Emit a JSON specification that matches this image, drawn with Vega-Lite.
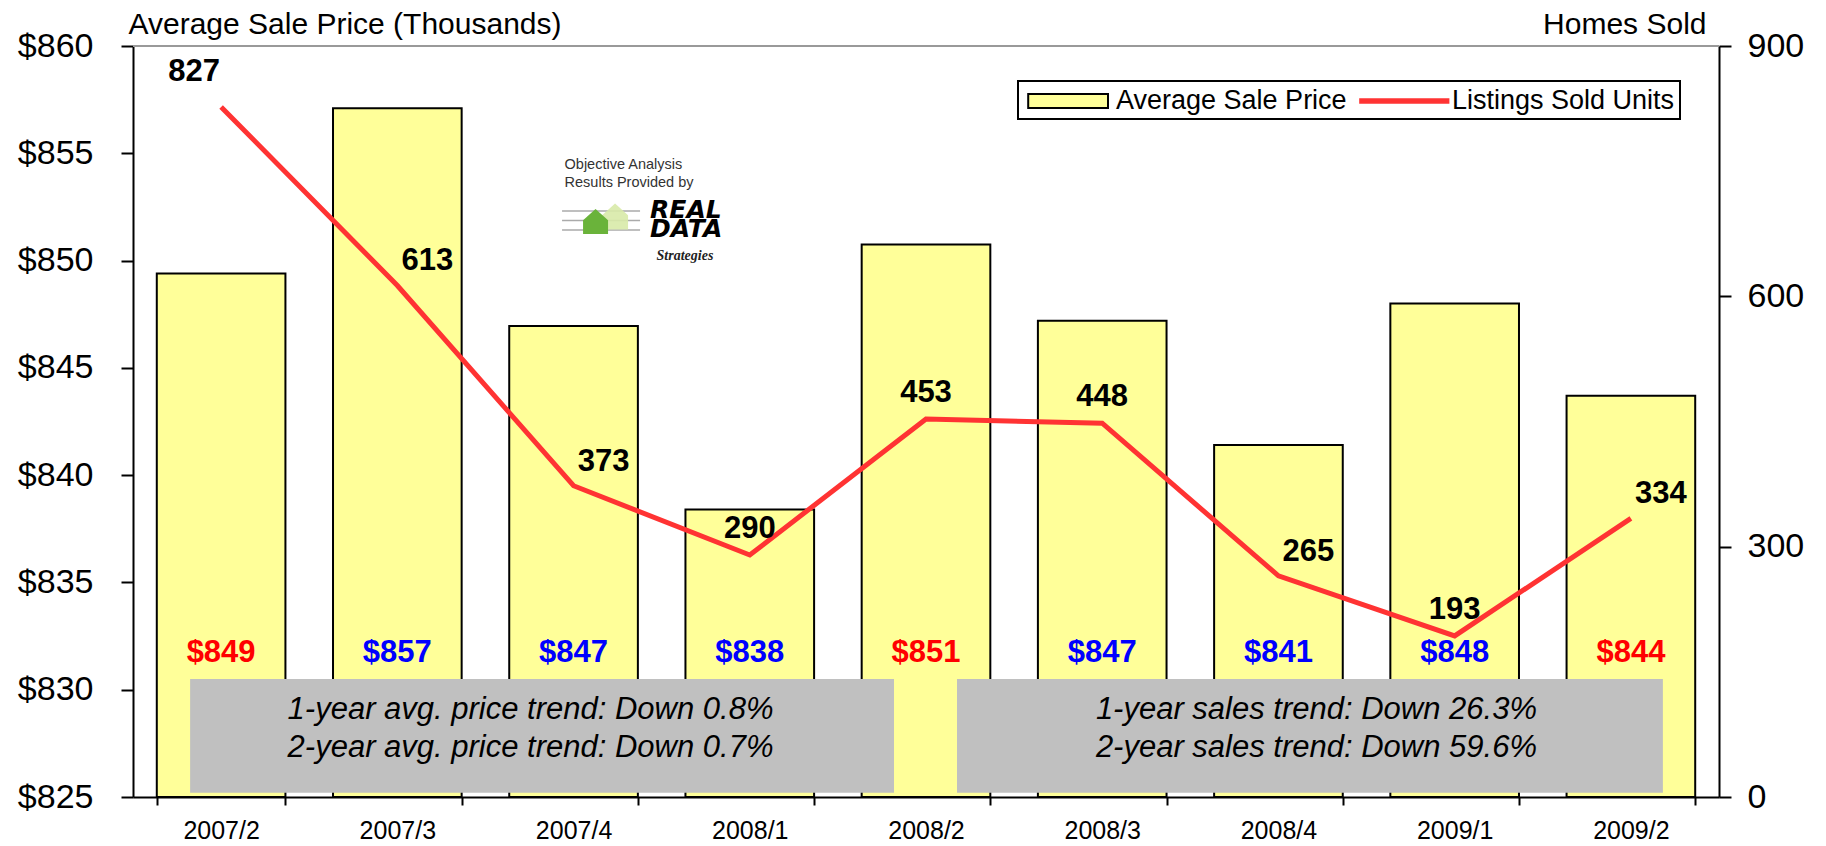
{
  "$schema": "https://vega.github.io/schema/vega-lite/v6.json",
  "autosize": {"type": "none"},
  "padding": {"left": 133, "top": 46, "right": 107, "bottom": 49},
  "width": 1586,
  "height": 751,
  "background": "white",
  "config": {
    "view": {"stroke": null},
    "font": "Liberation Sans",
    "axis": {"grid": false, "labelFont": "Liberation Sans", "titleFont": "Liberation Sans", "labelColor": "black", "titleColor": "black", "domainColor": "black", "tickColor": "black"}
  },
  "datasets": {
    "q": [
      {"quarter": "2007/2", "price": 849.4, "units": 827},
      {"quarter": "2007/3", "price": 857.1, "units": 613},
      {"quarter": "2007/4", "price": 846.95, "units": 373},
      {"quarter": "2008/1", "price": 838.4, "units": 290},
      {"quarter": "2008/2", "price": 850.75, "units": 453},
      {"quarter": "2008/3", "price": 847.2, "units": 448},
      {"quarter": "2008/4", "price": 841.4, "units": 265},
      {"quarter": "2009/1", "price": 848.0, "units": 193},
      {"quarter": "2009/2", "price": 843.7, "units": 334}
    ],
    "notes": [
      {"from": "2007/2", "to": "2008/2", "mid": "2007/4", "text": "1-year avg. price trend: Down 0.8%\n2-year avg. price trend: Down 0.7%"},
      {"from": "2008/2", "to": "2009/2", "mid": "2008/4", "text": "1-year sales trend: Down 26.3%\n2-year sales trend: Down 59.6%"}
    ]
  },
  "data": {"name": "q"},
  "layer": [
    {
      "layer": [
        {
          "mark": {"type": "bar", "filled": false, "fill": "#ffff99", "strokeWidth": 2},
          "encoding": {
            "x": {
              "field": "quarter", "type": "nominal", "sort": null,
              "scale": {"type": "band", "domain": ["2007/2","2007/3","2007/4","2008/1","2008/2","2008/3","2008/4","2009/1","2009/2"], "paddingInner": 0.27, "paddingOuter": 0.135},
              "axis": {"title": null, "labelAngle": 0, "labelFontSize": 25, "labelPadding": 13, "tickBand": "extent", "tickSize": 8, "tickWidth": 2, "domainWidth": 2}
            },
            "y": {
              "field": "price", "type": "quantitative",
              "scale": {"domain": [825, 860], "nice": false, "zero": false},
              "axis": {"orient": "left", "values": [825,830,835,840,845,850,855,860], "format": "$.0f", "labelFontSize": 34, "labelPadding": 28, "tickSize": 12, "tickWidth": 2, "domainWidth": 2,
                       "title": "Average Sale Price (Thousands)", "titleAngle": 0, "titleX": -5, "titleY": -13, "titleAlign": "left", "titleBaseline": "alphabetic", "titleFontSize": 30, "titleFontWeight": "normal"}
            },
            "y2": {"datum": 825},
            "color": {
              "datum": "Average Sale Price", "type": "nominal",
              "scale": {"domain": ["Average Sale Price", "Listings Sold Units"], "range": ["#000000", "#ff3333"]},
              "legend": {
                "title": null, "orient": "none", "legendX": 885, "legendY": 35, "direction": "horizontal",
                "symbolSize": 784, "labelFontSize": 27, "labelColor": "black", "labelFont": "Liberation Sans", "labelOffset": 63, "labelLimit": 400, "columnPadding": 8,
                "padding": 5, "strokeColor": "black", "fillColor": "white",
                "encode": {
                  "legend": {"update": {"strokeWidth": {"value": 2}}},
                  "labels": {"update": {"dx": {"signal": "datum.value === 'Listings Sold Units' ? 4 : 0"}}},
                  "symbols": {"update": {
                    "shape": {"signal": "datum.value === 'Average Sale Price' ? 'M-0.7,-0.5H5V0.5H-0.7Z' : 'M-0.7,-0.13H5.6V0.13H-0.7Z'"},
                    "fill": {"signal": "datum.value === 'Average Sale Price' ? '#ffff99' : '#ff3333'"},
                    "strokeWidth": {"value": 2},
                    "strokeOpacity": {"value": 1},
                    "fillOpacity": {"value": 1},
                    "size": {"value": 784},
                    "opacity": {"value": 1}
                  }}
                }
              }
            }
          }
        },
        {
          "data": {"name": "notes"},
          "transform": [{"filter": "datum.from === '2007/2'"}],
          "mark": {"type": "rect", "fill": "#c0c0c0", "xOffset": -31, "x2Offset": -32},
          "encoding": {
            "x": {"field": "from", "type": "nominal", "bandPosition": 0.5},
            "x2": {"field": "to", "bandPosition": 0.5},
            "y": {"datum": 830.5},
            "y2": {"datum": 825.2}
          }
        },
        {
          "data": {"name": "notes"},
          "transform": [{"filter": "datum.from === '2008/2'"}],
          "mark": {"type": "rect", "fill": "#c0c0c0", "xOffset": 31, "x2Offset": 32},
          "encoding": {
            "x": {"field": "from", "type": "nominal", "bandPosition": 0.5},
            "x2": {"field": "to", "bandPosition": 0.5},
            "y": {"datum": 830.5},
            "y2": {"datum": 825.2}
          }
        },
        {
          "data": {"name": "notes"},
          "transform": [{"filter": "datum.from === '2007/2'"}],
          "mark": {"type": "text", "fontStyle": "italic", "fontSize": 31, "lineBreak": "\n", "lineHeight": 38, "dx": -43, "baseline": "middle", "color": "black"},
          "encoding": {
            "x": {"field": "mid", "type": "nominal"},
            "y": {"datum": 829.05},
            "text": {"field": "text"}
          }
        },
        {
          "data": {"name": "notes"},
          "transform": [{"filter": "datum.from === '2008/2'"}],
          "mark": {"type": "text", "fontStyle": "italic", "fontSize": 31, "lineBreak": "\n", "lineHeight": 38, "dx": 38, "baseline": "middle", "color": "black"},
          "encoding": {
            "x": {"field": "mid", "type": "nominal"},
            "y": {"datum": 829.05},
            "text": {"field": "text"}
          }
        },
        {
          "mark": {"type": "text", "fontWeight": "bold", "fontSize": 31, "baseline": "middle"},
          "encoding": {
            "x": {"field": "quarter", "type": "nominal"},
            "y": {"datum": 831.7},
            "text": {"field": "price", "type": "quantitative", "format": "$.0f"},
            "color": {"condition": {"test": "indexof(datum.quarter, '/2') > 0", "value": "#ff0000"}, "value": "#0000ff"}
          }
        },
        {
          "data": {"values": [{}]},
          "mark": {"type": "rule", "color": "#999999", "strokeWidth": 2},
          "encoding": {"y": {"datum": 860}}
        },
        {
          "data": {"values": [{}]},
          "mark": {"type": "point", "shape": "M-1,-0.244H1M-1,0H1M-1,0.244H1", "filled": false, "stroke": "#aaaaaa", "strokeWidth": 1.5, "size": 6084, "opacity": 1, "xOffset": 27.5},
          "encoding": {"x": {"datum": "2007/4"}, "y": {"datum": 851.87}}
        },
        {
          "data": {"values": [{}]},
          "mark": {"type": "point", "shape": "M-1,1V-0.1L0,-1L1,-0.1V1Z", "filled": true, "fill": "#d8eaa8", "strokeWidth": 0, "size": 676, "opacity": 0.9, "xOffset": 41.5, "yOffset": -4},
          "encoding": {"x": {"datum": "2007/4"}, "y": {"datum": 851.87}}
        },
        {
          "data": {"values": [{}]},
          "mark": {"type": "point", "shape": "M-1,1V-0.1L0,-1L1,-0.1V1Z", "filled": true, "fill": "#6ab33a", "strokeWidth": 0, "size": 625, "opacity": 1, "xOffset": 22, "yOffset": 1},
          "encoding": {"x": {"datum": "2007/4"}, "y": {"datum": 851.87}}
        },
        {
          "data": {"values": [{}]},
          "mark": {"type": "text", "text": ["Objective Analysis", "Results Provided by"], "align": "left", "baseline": "middle", "fontSize": 14.5, "lineHeight": 18, "dx": -9, "color": "#333333"},
          "encoding": {"x": {"datum": "2007/4"}, "y": {"datum": 854.45}}
        },
        {
          "data": {"values": [{}]},
          "mark": {"type": "text", "text": ["REAL", "DATA"], "align": "left", "baseline": "middle", "font": "DejaVu Sans", "fontWeight": "bold", "fontStyle": "italic", "fontSize": 25, "lineHeight": 19, "dx": 76.5, "color": "black"},
          "encoding": {"x": {"datum": "2007/4"}, "y": {"datum": 852.36}}
        },
        {
          "data": {"values": [{}]},
          "mark": {"type": "text", "text": "Strategies", "align": "left", "baseline": "middle", "font": "Liberation Serif", "fontWeight": "bold", "fontStyle": "italic", "fontSize": 14, "dx": 83, "color": "#222222"},
          "encoding": {"x": {"datum": "2007/4"}, "y": {"datum": 850.2}}
        }
      ]
    },
    {
      "layer": [
        {
          "mark": {"type": "line", "strokeWidth": 5},
          "encoding": {
            "x": {"field": "quarter", "type": "nominal"},
            "y": {
              "field": "units", "type": "quantitative",
              "scale": {"domain": [0, 900], "nice": false},
              "axis": {"orient": "right", "values": [0, 300, 600, 900], "labelFontSize": 34, "labelPadding": 16, "tickSize": 12, "tickWidth": 2, "domainWidth": 2,
                       "title": "Homes Sold", "titleAngle": 0, "titleX": -13, "titleY": -13, "titleAlign": "right", "titleBaseline": "alphabetic", "titleFontSize": 30, "titleFontWeight": "normal"}
            },
            "color": {
              "datum": "Listings Sold Units", "type": "nominal",
              "legend": {
                "title": null, "orient": "none", "legendX": 885, "legendY": 35, "direction": "horizontal",
                "symbolSize": 784, "labelFontSize": 27, "labelColor": "black", "labelFont": "Liberation Sans", "labelOffset": 63, "labelLimit": 400, "columnPadding": 8,
                "padding": 5, "strokeColor": "black", "fillColor": "white",
                "encode": {
                  "legend": {"update": {"strokeWidth": {"value": 2}}},
                  "labels": {"update": {"dx": {"signal": "datum.value === 'Listings Sold Units' ? 4 : 0"}}},
                  "symbols": {"update": {
                    "shape": {"signal": "datum.value === 'Average Sale Price' ? 'M-0.7,-0.5H5V0.5H-0.7Z' : 'M-0.7,-0.13H5.6V0.13H-0.7Z'"},
                    "fill": {"signal": "datum.value === 'Average Sale Price' ? '#ffff99' : '#ff3333'"},
                    "strokeWidth": {"value": 2},
                    "strokeOpacity": {"value": 1},
                    "fillOpacity": {"value": 1},
                    "size": {"value": 784},
                    "opacity": {"value": 1}
                  }}
                }
              }
            }
          }
        },
        {
          "transform": [{"filter": {"field": "quarter", "oneOf": ["2007/3", "2007/4", "2008/4", "2009/2"]}}],
          "mark": {"type": "text", "fontWeight": "bold", "fontSize": 31, "baseline": "middle", "dx": 30, "dy": -24, "color": "black"},
          "encoding": {
            "x": {"field": "quarter", "type": "nominal"},
            "y": {"field": "units", "type": "quantitative"},
            "text": {"field": "units", "type": "quantitative"}
          }
        },
        {
          "transform": [{"filter": {"field": "quarter", "oneOf": ["2008/1", "2008/2", "2008/3", "2009/1"]}}],
          "mark": {"type": "text", "fontWeight": "bold", "fontSize": 31, "baseline": "middle", "dx": 0, "dy": -26, "color": "black"},
          "encoding": {
            "x": {"field": "quarter", "type": "nominal"},
            "y": {"field": "units", "type": "quantitative"},
            "text": {"field": "units", "type": "quantitative"}
          }
        },
        {
          "transform": [{"filter": {"field": "quarter", "oneOf": ["2007/2"]}}],
          "mark": {"type": "text", "fontWeight": "bold", "fontSize": 31, "baseline": "middle", "dx": -27, "dy": -35, "color": "black"},
          "encoding": {
            "x": {"field": "quarter", "type": "nominal"},
            "y": {"field": "units", "type": "quantitative"},
            "text": {"field": "units", "type": "quantitative"}
          }
        }
      ]
    }
  ],
  "resolve": {"scale": {"y": "independent"}}
}
